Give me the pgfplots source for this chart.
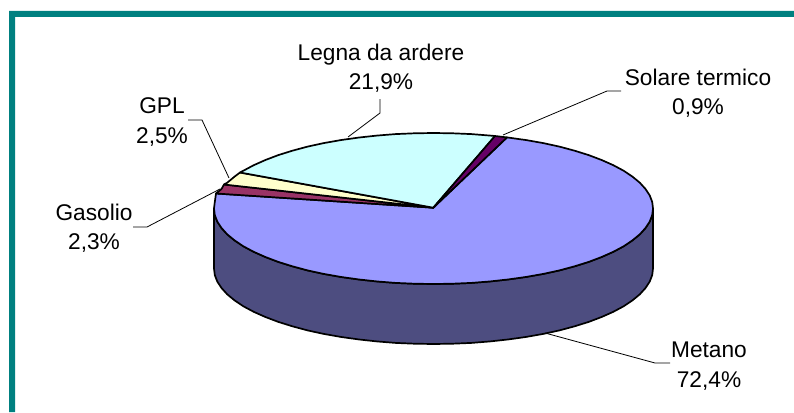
\documentclass[border=0pt]{standalone}
\usepackage{pgfplots}
\pgfplotsset{compat=1.18}
\usepackage{fontspec}
\setmainfont{Liberation Sans}
\definecolor{teal0}{HTML}{008080}
\definecolor{side}{HTML}{4D4D80}
\definecolor{metano}{HTML}{9999FF}
\definecolor{legna}{HTML}{CCFFFF}
\definecolor{gpl}{HTML}{FFFFCC}
\definecolor{gasolio}{HTML}{993366}
\definecolor{solare}{HTML}{660066}
\tikzset{lab/.style={font=\fontsize{22.7}{26}\selectfont, anchor=base, inner sep=0pt, text=black}}
\begin{document}
\begin{tikzpicture}
\begin{axis}[
  at={(0pt,0pt)}, anchor=south west,
  scale only axis, width=794pt, height=412pt,
  xmin=0, xmax=794, ymin=0, ymax=412, y dir=reverse,
  axis lines=none, ticks=none, clip=true,
  every axis plot/.append style={no marks},
]
% page background
\addplot[fill=white, draw=none] coordinates {(0,0)(794,0)(794,412)(0,412)} -- cycle;
% outer frame
\addplot[fill=teal0, draw=none] coordinates {(9,11) (794,11) (794,17) (15,17) (15,412) (9,412)} -- cycle;
% side wall
\addplot[fill=side, draw=black, line width=1.7pt, line join=round] coordinates {
(214.0,208.5)(214.8,215.1)(217.3,221.6)(221.5,228.0)(227.2,234.3)(234.6,240.4)(243.4,246.3)(253.7,251.8)(265.4,257.0)(278.3,261.9)(292.4,266.3)(307.6,270.4)(323.7,273.9)(340.7,276.9)(358.4,279.4)(376.7,281.4)(395.4,282.9)(414.4,283.7)(433.5,284.0)(452.6,283.7)(471.6,282.9)(490.3,281.4)(508.6,279.4)(526.3,276.9)(543.3,273.9)(559.4,270.4)(574.6,266.3)(588.7,261.9)(601.6,257.0)(613.3,251.8)(623.6,246.3)(632.4,240.4)(639.8,234.3)(645.5,228.0)(649.7,221.6)(652.2,215.1)(653.0,208.5)
(653.0,268.5)(652.2,275.1)(649.7,281.6)(645.5,288.0)(639.8,294.3)(632.4,300.4)(623.6,306.3)(613.3,311.8)(601.6,317.0)(588.7,321.9)(574.6,326.3)(559.4,330.4)(543.3,333.9)(526.3,336.9)(508.6,339.4)(490.3,341.4)(471.6,342.9)(452.6,343.7)(433.5,344.0)(414.4,343.7)(395.4,342.9)(376.7,341.4)(358.4,339.4)(340.7,336.9)(323.7,333.9)(307.6,330.4)(292.4,326.3)(278.3,321.9)(265.4,317.0)(253.7,311.8)(243.4,306.3)(234.6,300.4)(227.2,294.3)(221.5,288.0)(217.3,281.6)(214.8,275.1)(214.0,268.5)
} -- cycle;
% metano top
\addplot[fill=metano, draw=black, line width=1.7pt, line join=round] coordinates {
(433.3,207.7)(507.0,137.4)(526.3,140.1)(543.3,143.1)(559.4,146.6)(574.6,150.7)(588.7,155.1)(601.6,160.0)(613.3,165.2)(623.6,170.7)(632.4,176.6)(639.8,182.7)(645.5,189.0)(649.7,195.4)(652.2,201.9)(653.0,208.5)(652.2,215.1)(649.7,221.6)(645.5,228.0)(639.8,234.3)(632.4,240.4)(623.6,246.3)(613.3,251.8)(601.6,257.0)(588.7,261.9)(574.6,266.3)(559.4,270.4)(543.3,273.9)(526.3,276.9)(508.6,279.4)(490.3,281.4)(471.6,282.9)(452.6,283.7)(433.5,284.0)(414.4,283.7)(395.4,282.9)(376.7,281.4)(358.4,279.4)(340.7,276.9)(323.7,273.9)(307.6,270.4)(292.4,266.3)(278.3,261.9)(265.4,257.0)(253.7,251.8)(243.4,246.3)(234.6,240.4)(227.2,234.3)(221.5,228.0)(217.3,221.6)(214.8,215.1)(214.0,208.5)(214.8,201.9)(216.0,193.5)
} -- cycle;
% gasolio
\addplot[fill=gasolio, draw=black, line width=1.7pt, line join=round] coordinates {(433.3,207.7)(216.0,193.5)(221.5,189.0)(224.0,184.5)} -- cycle;
% gpl
\addplot[fill=gpl, draw=black, line width=1.7pt, line join=round] coordinates {(433.3,207.7)(224.0,184.5)(227.2,182.7)(234.6,176.6)(240.0,172.5)} -- cycle;
% legna
\addplot[fill=legna, draw=black, line width=1.7pt, line join=round] coordinates {(433.3,207.7)(240.0,172.5)(243.4,170.7)(253.7,165.2)(265.4,160.0)(278.3,155.1)(292.4,150.7)(307.6,146.6)(323.7,143.1)(340.7,140.1)(358.4,137.6)(376.7,135.6)(395.4,134.1)(414.4,133.3)(433.5,133.0)(452.6,133.3)(471.6,134.1)(490.3,135.6)(495.0,136.0)} -- cycle;
% solare
\addplot[fill=solare, draw=black, line width=1.7pt, line join=round] coordinates {(433.3,207.7)(495.0,136.0)(507.0,137.4)} -- cycle;
% leaders
\addplot[black, line width=0.8pt] coordinates {(348,137)(380,113)(380,99)};
\addplot[black, line width=0.8pt] coordinates {(229,178)(202,120)(188,120)};
\addplot[black, line width=0.8pt] coordinates {(220,189)(147,227)(133,227)};
\addplot[black, line width=0.8pt] coordinates {(503,135)(607,91)(621,91)};
\addplot[black, line width=0.8pt] coordinates {(545,333)(655,363)(670,363)};
% labels
\node[lab] at (axis cs:381,60) {Legna da ardere};
\node[lab] at (axis cs:381,89) {21,9\%};
\node[lab] at (axis cs:698,85) {Solare termico};
\node[lab] at (axis cs:698,114) {0,9\%};
\node[lab] at (axis cs:162,113) {GPL};
\node[lab] at (axis cs:162,143) {2,5\%};
\node[lab] at (axis cs:94,220) {Gasolio};
\node[lab] at (axis cs:94,249) {2,3\%};
\node[lab] at (axis cs:709,357) {Metano};
\node[lab] at (axis cs:709,387) {72,4\%};
\end{axis}
\end{tikzpicture}
\end{document}
